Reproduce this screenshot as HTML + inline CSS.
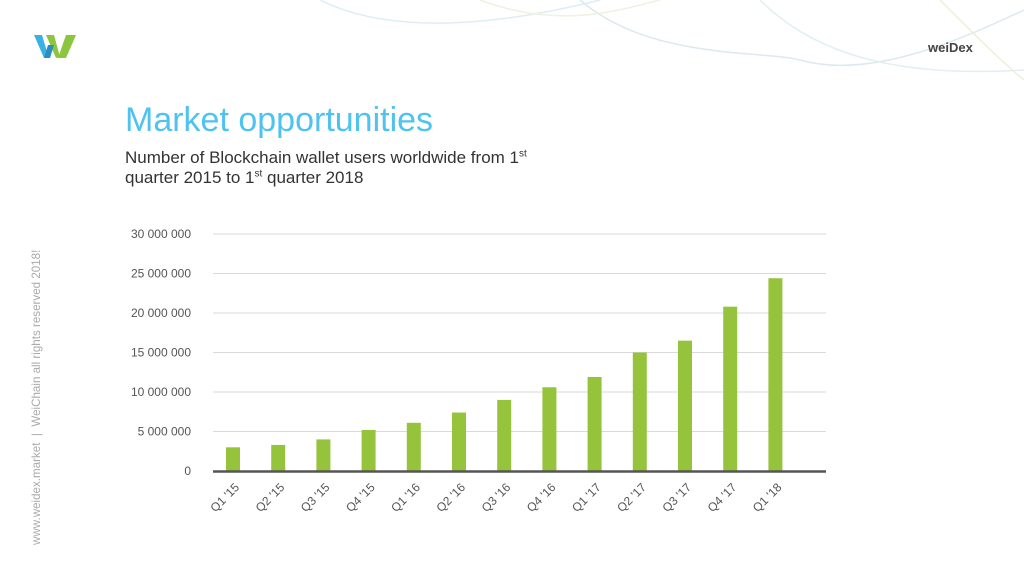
<!DOCTYPE html>
<html><head><meta charset="utf-8"><style>
body{margin:0;width:1024px;height:576px;background:#fff;overflow:hidden;font-family:"Liberation Sans",sans-serif;position:relative}
.t{position:absolute;left:125px;top:101px;font-size:34px;color:#4fc3f0}
.s{position:absolute;left:125px;top:148px;font-size:17px;color:#333;line-height:20px}
sup{font-size:10px;line-height:0}
.side{position:absolute;left:30px;top:545px;transform:rotate(-90deg);transform-origin:0 0;font-size:11.6px;color:#aaa;white-space:nowrap}
</style></head><body>
<svg width="1024" height="576" style="position:absolute;left:0;top:0">
<path d="M320,0 C400,40 520,20 600,0" stroke="#dceef4" fill="none" stroke-width="1.5"/>
<path d="M580,0 C650,60 760,50 800,60 C870,80 960,40 1024,10" stroke="#dce9ee" fill="none" stroke-width="1.5"/>
<path d="M760,0 C800,40 870,80 1024,70" stroke="#e2eef2" fill="none" stroke-width="1.5"/>
<path d="M480,0 C560,30 620,10 660,0" stroke="#eef2de" fill="none" stroke-width="1.5"/>
<path d="M940,0 C980,40 1000,60 1024,80" stroke="#eeeed8" fill="none" stroke-width="1.5"/>
<g><path d="M34,35 L42,35 L48,55 L44,58 Z" fill="#3bb0e3"/><path d="M46,35 L54,35 L60,57 L56,58 Z" fill="#8cc63f"/><path d="M58,58 L66,35 L76,35 L66,58 Z" fill="#8cc63f"/><path d="M44,58 L48,45 L54,45 L50,58Z" fill="#2a8fc0"/></g>
<text x="928" y="52" font-size="13" font-weight="bold" fill="#444" font-family="Liberation Sans">weiDex</text>
<g id="chart"></g>
</svg>
<div class="t">Market opportunities</div>
<div class="s">Number of Blockchain wallet users worldwide from 1<sup>st</sup><br>quarter 2015 to 1<sup>st</sup> quarter 2018</div>
<div class="side">www.weidex.market &nbsp;|&nbsp; WeiChain all rights reserved 2018!</div>
<script>
const categories=["Q1 '15","Q2 '15","Q3 '15","Q4 '15","Q1 '16","Q2 '16","Q3 '16","Q4 '16","Q1 '17","Q2 '17","Q3 '17","Q4 '17","Q1 '18"];
const users=[3.0,3.3,4.0,5.2,6.1,7.4,9.0,10.6,11.9,15.0,16.5,20.8,24.4];
const yTicks=[0,5,10,15,20,25,30];
const yTickLabels=["0","5 000 000","10 000 000","15 000 000","20 000 000","25 000 000","30 000 000"];
const NS="http://www.w3.org/2000/svg",g=document.getElementById('chart');
const x0=213,x1=826,y0=471,y30=234;
const y=v=>y0-(y30-y0)/-30*v;
const step=45.2,xc=i=>233+i*step;
function mk(t,a){const e=document.createElementNS(NS,t);for(const k in a)e.setAttribute(k,a[k]);g.appendChild(e);return e;}
yTicks.forEach((v,i)=>{
 if(v>0){const l=mk('line',{x1:x0,x2:x1,y1:y(v),y2:y(v),stroke:'#d9d9d9','stroke-width':1});
 
 }
 const t=mk('text',{x:191,y:y(v)+4,'text-anchor':'end','font-size':12,fill:'#555','font-family':'Liberation Sans'});
 t.textContent=yTickLabels[i];
 
 
});
users.forEach((v,i)=>{
 const r=mk('rect',{x:xc(i)-7,y:y(v),width:14,height:y0-y(v),fill:'#96c33c'});
 
 
 const t=mk('text',{x:xc(i)+7,y:y0+17,'text-anchor':'end','font-size':12,fill:'#555','font-family':'Liberation Sans',transform:`rotate(-45 ${xc(i)+7} ${y0+17})`});
 t.textContent=categories[i];
 
 
});
const ax=mk('line',{x1:x0,x2:x1,y1:y0+0.5,y2:y0+0.5,stroke:'#555','stroke-width':2.5});


</script>
</body></html>
